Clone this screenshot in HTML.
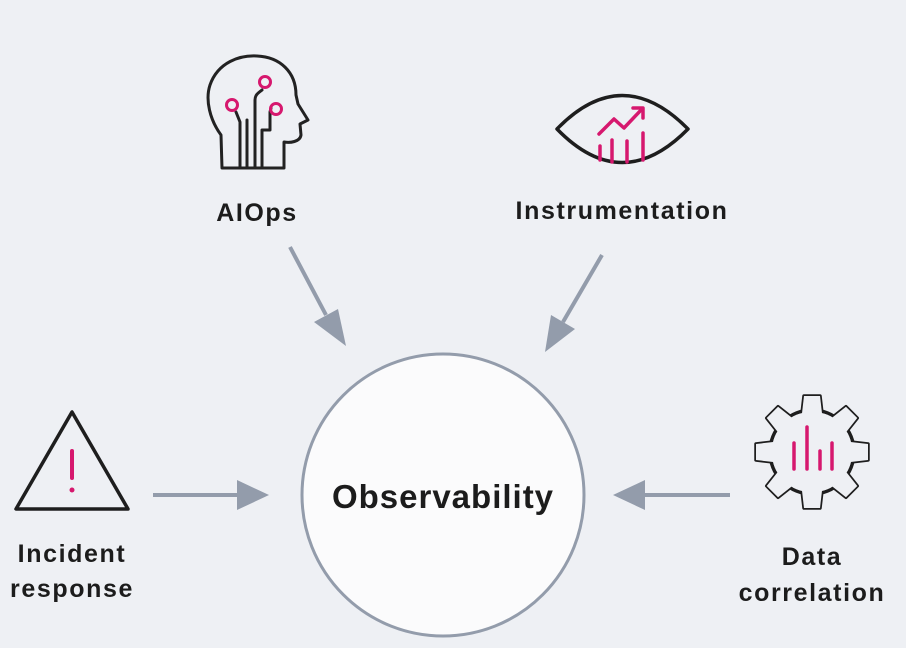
<!DOCTYPE html>
<html><head><meta charset="utf-8"><style>
html,body{margin:0;padding:0;background:#eef0f4;}
svg{display:block}
text{font-family:"Liberation Sans",sans-serif;font-weight:bold;fill:#1c1c1c}
</style></head><body>
<svg width="906" height="648" viewBox="0 0 906 648">
<rect width="906" height="648" fill="#eef0f4"/>
<circle cx="443" cy="495" r="141" fill="#fbfbfc" stroke="#939cab" stroke-width="3"/>
<text x="443" y="508" font-size="33" letter-spacing="1" text-anchor="middle">Observability</text>

<g stroke="#939cab" stroke-width="4" fill="#939cab">
<line x1="290" y1="247" x2="326" y2="315"/>
<polygon points="346,346 314,322 338,309" stroke="none"/>
<line x1="602" y1="255" x2="563" y2="322"/>
<polygon points="545,352 551,315 575,329" stroke="none"/>
<line x1="153" y1="495" x2="240" y2="495"/>
<polygon points="269,495 237,480 237,510" stroke="none"/>
<line x1="730" y1="495" x2="642" y2="495"/>
<polygon points="613,495 645,480 645,510" stroke="none"/>
</g>

<g fill="none" stroke="#222" stroke-width="3" stroke-linejoin="round" stroke-linecap="round">
<path d="M222,168 L221,135 C210,120 205,100 210,85 C218,62 240,55 257,56 C280,57 296,72 296,95 L298,104 L308,120 L300,124 L301,135 C300,142 290,143 284,142 L284,168 Z"/>
<path d="M247,168 V128 V120" />
<path d="M255,168 V100 C255,95 258,93 262,90"/>
<path d="M262,168 V130 H270 V112 L271,108"/>
<path d="M240,168 V122 L236,112"/>
</g>
<g fill="none" stroke="#d6186e" stroke-width="3">
<circle cx="232" cy="105" r="5.5"/>
<circle cx="265" cy="82" r="5.5"/>
<circle cx="276" cy="109" r="5.5"/>
</g>

<path d="M557,129 Q622,62 688,129 Q622,196 557,129 Z" fill="none" stroke="#1e1e1e" stroke-width="3.5" stroke-linejoin="round"/>
<g stroke="#d6186e" stroke-width="3.5" fill="none" stroke-linecap="round" stroke-linejoin="round">
<line x1="600" y1="146" x2="600" y2="160"/>
<line x1="612" y1="140" x2="612" y2="162"/>
<line x1="627" y1="141" x2="627" y2="162"/>
<line x1="643" y1="133" x2="643" y2="160"/>
<polyline points="599,134 614,119 624,128 642,109"/>
<polyline points="633,108 643,108 643,118"/>
</g>

<path d="M72,412 L16,509 L128,509 Z" fill="none" stroke="#1e1e1e" stroke-width="3.5" stroke-linejoin="round"/>
<line x1="72" y1="451" x2="72" y2="478" stroke="#d6186e" stroke-width="4" stroke-linecap="round"/>
<circle cx="72" cy="490" r="2.5" fill="#d6186e"/>

<defs>
<polygon id="tooth" points="-11,-30 11,-30 8,-56 -8,-56"/>
</defs>
<g transform="translate(812,452)">
<g fill="none" stroke="#1e1e1e" stroke-width="3.5" stroke-linejoin="round">
<use href="#tooth"/><use href="#tooth" transform="rotate(45)"/><use href="#tooth" transform="rotate(90)"/><use href="#tooth" transform="rotate(135)"/>
<use href="#tooth" transform="rotate(180)"/><use href="#tooth" transform="rotate(225)"/><use href="#tooth" transform="rotate(270)"/><use href="#tooth" transform="rotate(315)"/>
<circle r="42"/>
</g>
<g fill="#eef0f4" stroke="none">
<use href="#tooth"/><use href="#tooth" transform="rotate(45)"/><use href="#tooth" transform="rotate(90)"/><use href="#tooth" transform="rotate(135)"/>
<use href="#tooth" transform="rotate(180)"/><use href="#tooth" transform="rotate(225)"/><use href="#tooth" transform="rotate(270)"/><use href="#tooth" transform="rotate(315)"/>
<circle r="40.3"/>
</g>
</g>
<g stroke="#d6186e" stroke-width="3.5" stroke-linecap="round">
<line x1="794" y1="443" x2="794" y2="469"/>
<line x1="807" y1="427" x2="807" y2="469"/>
<line x1="820" y1="451" x2="820" y2="469"/>
<line x1="832" y1="443" x2="832" y2="469"/>
</g>

<g font-size="25" letter-spacing="1.6" text-anchor="middle">
<text x="257" y="221">AIOps</text>
<text x="622" y="219">Instrumentation</text>
<text x="72" y="562">Incident</text>
<text x="72" y="597">response</text>
<text x="812" y="565">Data</text>
<text x="812" y="601">correlation</text>
</g>
</svg>
</body></html>
